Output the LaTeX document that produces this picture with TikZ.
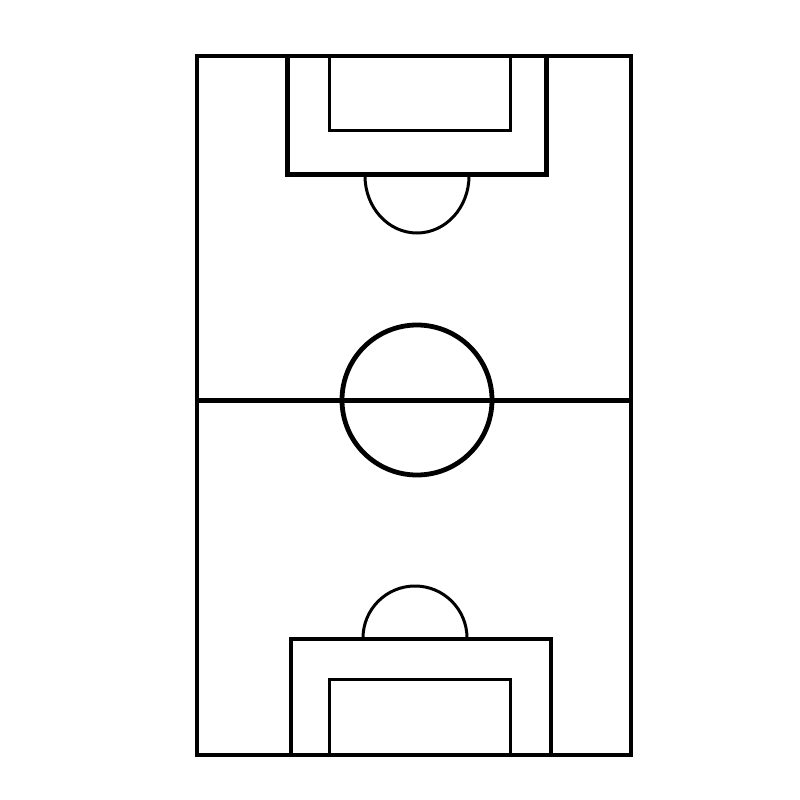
\documentclass[tikz,border=0pt]{standalone}
\begin{document}
\begin{tikzpicture}[x=1pt,y=-1pt,
  heavy/.style={line width=4.8pt,draw=black},
  light/.style={line width=3pt,draw=black}]
\useasboundingbox (0,0) rectangle (800,800);
\fill[white] (0,0) rectangle (800,800);
% field
\draw[heavy] (197,56) rectangle (631,755);
\draw[heavy] (197,400.5) -- (631,400.5);
\draw[heavy] (417,400) circle (75);
% top
\draw[light] (329,56) -- (329,130) -- (510,130) -- (510,56);
\draw[heavy] (287.5,56) -- (287.5,174.5) -- (546.5,174.5) -- (546.5,56);
\draw[light] (365,176) arc[start angle=180,end angle=0,x radius=52,y radius=57];
% bottom
\draw[light] (329.5,755) -- (329.5,679) -- (510.5,679) -- (510.5,755);
\draw[heavy] (291,755) -- (291,639) -- (551,639) -- (551,755);
\draw[light] (363,638) arc[start angle=180,end angle=360,radius=52];
\end{tikzpicture}
\end{document}
